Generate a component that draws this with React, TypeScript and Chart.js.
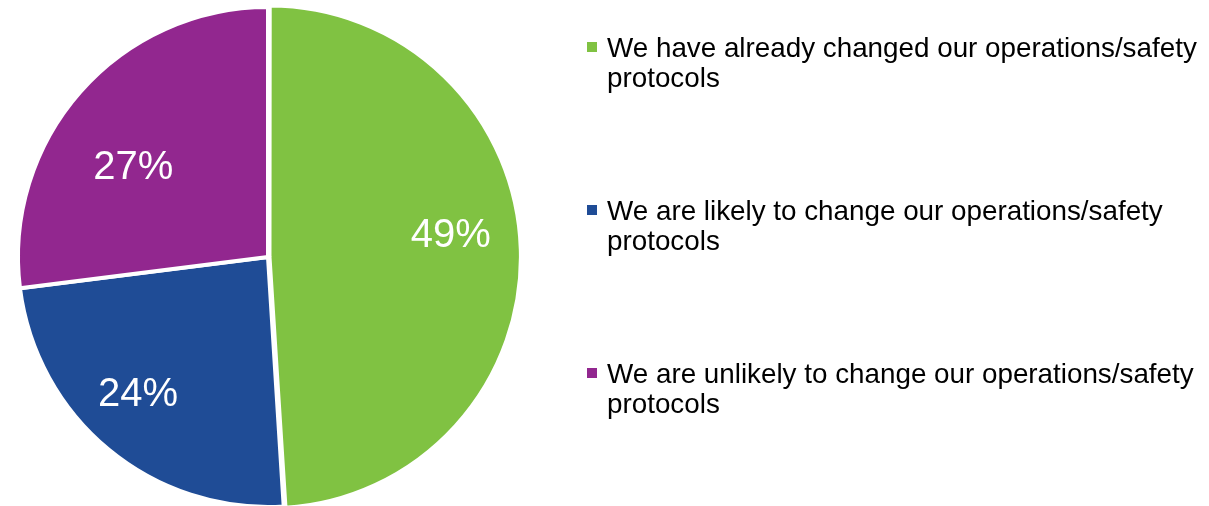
import React, { useEffect, useRef } from "react";
import { Chart, registerables } from "chart.js";

Chart.register(...registerables);

// ---- Data ----
const categories = [
  "We have already changed our operations/safety protocols",
  "We are likely to change our operations/safety protocols",
  "We are unlikely to change our operations/safety protocols",
];
const values = [49, 24, 27];
const valueLabels = ["49%", "24%", "27%"];
const colors = ["#80C242", "#1F4C96", "#92278F"];
const sliceOffsets = [6, 0, 0];
// label placement relative to each slice: angle shift (deg) and radius fraction
const labelAngleShift = [-5.8, 4.5, -6.8];
const labelRadiusFrac = [0.744, 0.753, 0.66];

const W = 1209;
const H = 506;
const FONT = '"Liberation Sans", Arial, Helvetica, sans-serif';

function wrapText(ctx: CanvasRenderingContext2D, text: string, maxWidth: number): string[] {
  const words = text.split(" ");
  const lines: string[] = [];
  let cur = "";
  for (const w of words) {
    const test = cur ? cur + " " + w : w;
    if (cur && ctx.measureText(test).width > maxWidth) {
      lines.push(cur);
      cur = w;
    } else {
      cur = test;
    }
  }
  if (cur) lines.push(cur);
  return lines;
}

export default function App() {
  const ref = useRef<HTMLCanvasElement>(null);

  useEffect(() => {
    const canvas = ref.current;
    if (!canvas) return;

    const labelPlugin = {
      id: "sliceLabels",
      afterDatasetsDraw(chart: any) {
        const ctx: CanvasRenderingContext2D = chart.ctx;
        const meta = chart.getDatasetMeta(0);
        ctx.save();
        ctx.fillStyle = "#ffffff";
        ctx.font = `40px ${FONT}`;
        ctx.textAlign = "center";
        ctx.textBaseline = "alphabetic";
        meta.data.forEach((arc: any, i: number) => {
          const p = arc.getProps(["x", "y", "startAngle", "endAngle", "outerRadius"], true);
          const mid = (p.startAngle + p.endAngle) / 2 + (labelAngleShift[i] * Math.PI) / 180;
          const d = (p.outerRadius - 2) * labelRadiusFrac[i];
          ctx.fillText(valueLabels[i], p.x + Math.cos(mid) * d, p.y + Math.sin(mid) * d + 14.5);
        });
        ctx.restore();
      },
    };

    const legendPlugin = {
      id: "sideLegend",
      afterDraw(chart: any) {
        const ctx: any = chart.ctx;
        ctx.save();
        ctx.font = `27.8px ${FONT}`;
        ctx.textAlign = "left";
        ctx.textBaseline = "alphabetic";
        const markerX = 587;
        const textX = 607;
        const firstBaseline = 57;
        const entryGap = 163;
        const lineH = 30;
        categories.forEach((label, i) => {
          const base = firstBaseline + i * entryGap;
          ctx.fillStyle = colors[i];
          ctx.fillRect(markerX, base - 15, 10, 10);
          ctx.fillStyle = "#000000";
          const lines = wrapText(ctx, label, W - textX - 2);
          lines.forEach((ln: string, j: number) => ctx.fillText(ln, textX, base + j * lineH));
        });
        ctx.restore();
      },
    };

    const chart = new Chart(canvas, {
      type: "pie",
      data: {
        labels: categories,
        datasets: [
          {
            data: values,
            backgroundColor: colors,
            borderColor: "#ffffff",
            borderWidth: 4,
            offset: sliceOffsets,
            radius: 250,
          } as any,
        ],
      },
      options: {
        responsive: false,
        animation: false,
        events: [],
        layout: { padding: { left: 20, right: W - 516, top: 9, bottom: 1 } },
        plugins: {
          legend: { display: false },
          tooltip: { enabled: false },
          title: { display: false },
        },
      },
      plugins: [labelPlugin, legendPlugin],
    });

    return () => chart.destroy();
  }, []);

  return (
    <div style={{ position: "absolute", left: 0, top: 0, width: W, height: H, background: "#fff" }}>
      <canvas ref={ref} width={W} height={H} style={{ display: "block", width: W, height: H }} />
    </div>
  );
}
